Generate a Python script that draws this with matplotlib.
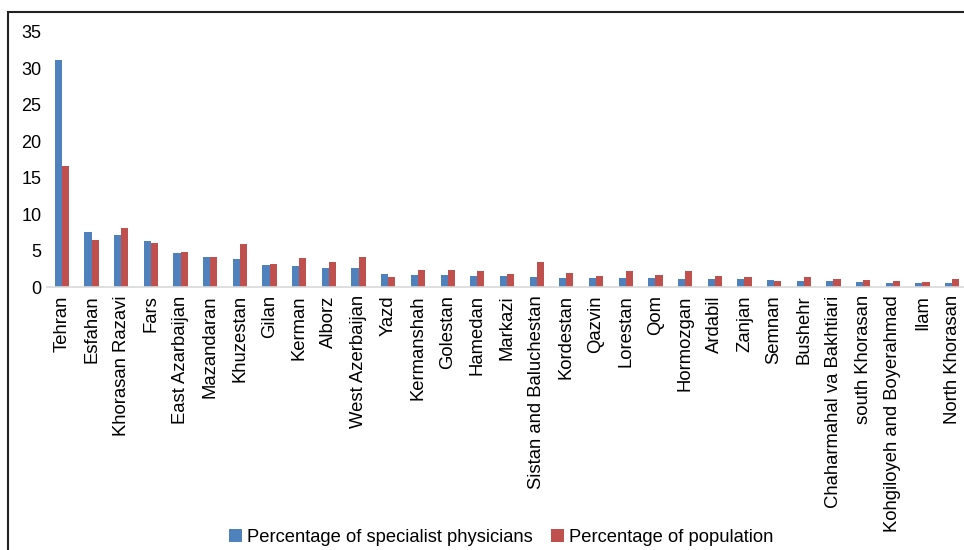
import matplotlib
matplotlib.use('Agg')
import matplotlib.pyplot as plt
import numpy as np
from matplotlib.patches import Rectangle

plt.rcParams['font.family'] = ['Liberation Sans', 'DejaVu Sans']

provinces = ['Tehran', 'Esfahan', 'Khorasan Razavi', 'Fars', 'East Azarbaijan',
             'Mazandaran', 'Khuzestan', 'Gilan', 'Kerman', 'Alborz',
             'West Azerbaijan', 'Yazd', 'Kermanshah', 'Golestan', 'Hamedan',
             'Markazi', 'Sistan and Baluchestan', 'Kordestan', 'Qazvin', 'Lorestan',
             'Qom', 'Hormozgan', 'Ardabil', 'Zanjan', 'Semnan',
             'Bushehr', 'Chaharmahal va Bakhtiari', 'south Khorasan',
             'Kohgiloyeh and Boyerahmad', 'Ilam', 'North Khorasan']

physicians = [31.2, 7.6, 7.2, 6.3, 4.6, 4.1, 3.8, 3.0, 2.85, 2.6,
              2.6, 1.75, 1.6, 1.6, 1.5, 1.5, 1.35, 1.2, 1.2, 1.2,
              1.2, 1.05, 1.05, 1.05, 0.9, 0.8, 0.8, 0.65, 0.5, 0.5,
              0.5]
population = [16.6, 6.4, 8.05, 6.0, 4.75, 4.1, 5.85, 3.1, 3.95, 3.4,
              4.1, 1.35, 2.3, 2.3, 2.15, 1.75, 3.4, 1.9, 1.45, 2.15,
              1.6, 2.15, 1.45, 1.35, 0.8, 1.35, 1.05, 0.9, 0.8, 0.65,
              1.05]

series_names = ['Percentage of specialist physicians', 'Percentage of population']

fig = plt.figure(figsize=(9.64, 5.5), dpi=100)
ax = fig.add_axes([47 / 964, 1 - 287 / 550, 920 / 964, 255 / 550])

x = np.arange(len(provinces))
w = 0.24
ax.bar(x - w / 2, physicians, w, color='#4F81BD', label=series_names[0])
ax.bar(x + w / 2, population, w, color='#C0504D', label=series_names[1])

ax.set_xlim(-0.5, len(provinces) - 0.5)
ax.set_ylim(0, 35)
ax.set_yticks(range(0, 36, 5))
ax.set_xticks(x)
ax.set_xticklabels(provinces, rotation=90, fontsize=13.3)
ax.tick_params(axis='y', labelsize=13, length=0, pad=4)
ax.tick_params(axis='x', length=0, pad=6)

for side in ['top', 'right', 'left']:
    ax.spines[side].set_visible(False)
ax.spines['bottom'].set_color('#d9d9d9')
ax.spines['bottom'].set_linewidth(1.2)

fig.legend(loc='center', bbox_to_anchor=(0.52, 1 - 537 / 550), ncol=2,
           frameon=False, fontsize=13.2, handlelength=0.7, handleheight=0.7,
           handletextpad=0.3, columnspacing=1.0)

# outer frame, open on the right and bottom edges
fig.patches.append(Rectangle((8 / 964, -0.1), 1.2, 1 - 12 / 550 + 0.1,
                             transform=fig.transFigure, fill=False,
                             edgecolor='#222222', linewidth=1.5))

fig.savefig('out.png', dpi=100)
